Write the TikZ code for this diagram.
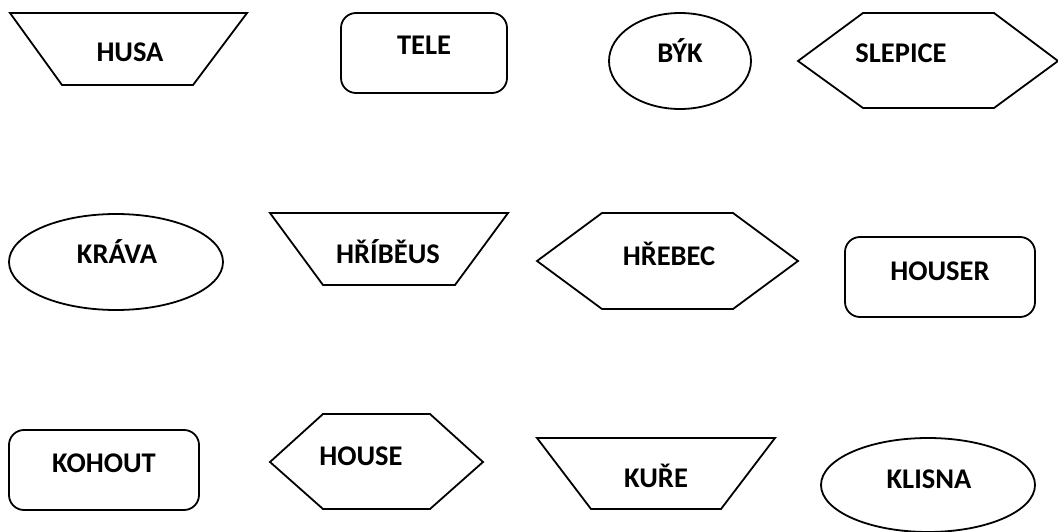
\documentclass[tikz,border=0pt]{standalone}
\usepackage{fontspec}
\setmainfont{Carlito}
\begin{document}
\begin{tikzpicture}[x=1pt,y=-1pt,
  shp/.style={line width=1.8pt, line join=miter},
  lbl/.style={inner sep=0pt, anchor=base, font=\fontsize{28.5}{34}\selectfont\bfseries}]
\useasboundingbox (0,0) rectangle (1058,532);
\fill[white] (0,0) rectangle (1058,532);
% row 1
\draw[shp] (10,13) -- (247,13) -- (193,85) -- (62,85) -- cycle;
\node[lbl] (husa) at (130,62) {HUSA};
\draw[shp, rounded corners=15pt] (341,13) rectangle (507,93);
\node[lbl] (tele) at (424,55) {TELE};
\draw[shp] (680,61) ellipse [x radius=71, y radius=48];
\node[lbl] (byk) at (680,63) {BÝK};
\draw[shp] (798,61) -- (863,13) -- (994,13) -- (1058,61) -- (994,108) -- (863,108) -- cycle;
\node[lbl] (slepice) at (901,63) {SLEPICE};
% row 2
\draw[shp] (116,262) ellipse [x radius=107, y radius=48];
\node[lbl] (krava) at (117,263) {KRÁVA};
\draw[shp] (270,213) -- (508,213) -- (455,285) -- (323,285) -- cycle;
\node[lbl] (hribeus) at (388,263) {HŘÍBĚUS};
\draw[shp] (537,261) -- (602,213) -- (733,213) -- (798,261) -- (733,309) -- (602,309) -- cycle;
\node[lbl] (hrebec) at (669,265) {HŘEBEC};
\draw[shp, rounded corners=15pt] (845,237) rectangle (1035,317);
\node[lbl] (houser) at (940,280) {HOUSER};
% row 3
\draw[shp, rounded corners=15pt] (9,430) rectangle (199,510);
\node[lbl] (kohout) at (104,472) {KOHOUT};
\draw[shp] (270,462) -- (323,414) -- (430,414) -- (483,462) -- (430,509) -- (323,509) -- cycle;
\node[lbl] (house) at (361,465) {HOUSE};
\draw[shp] (537,438) -- (775,438) -- (721,509) -- (591,509) -- cycle;
\node[lbl] (kure) at (656,487) {KUŘE};
\draw[shp] (928,485) ellipse [x radius=107, y radius=47];
\node[lbl] (klisna) at (929,488) {KLISNA};
\end{tikzpicture}
\end{document}
